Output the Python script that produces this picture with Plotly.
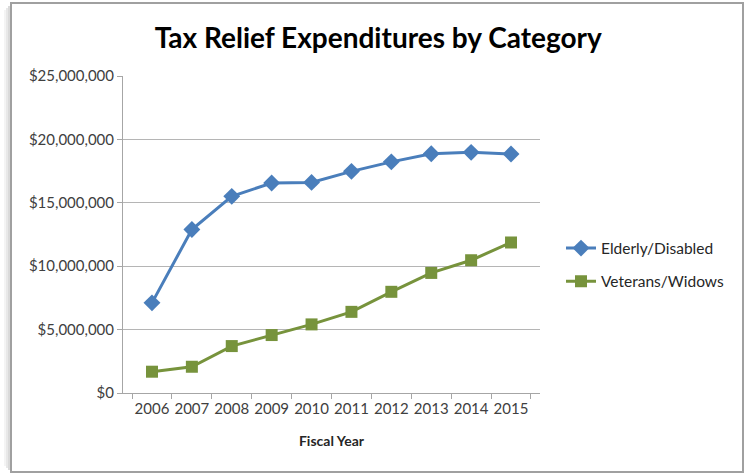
import plotly.graph_objects as go

years = ["2006", "2007", "2008", "2009", "2010", "2011", "2012", "2013", "2014", "2015"]
elderly_disabled = [7110000, 12890000, 15510000, 16560000, 16610000, 17480000, 18230000, 18870000, 18980000, 18850000]
veterans_widows = [1680000, 2070000, 3700000, 4570000, 5410000, 6400000, 7980000, 9470000, 10470000, 11870000]
y_ticks = [0, 5000000, 10000000, 15000000, 20000000, 25000000]

W, H = 746, 474
L, R, T, B = 123, 206, 76, 81
pw, ph = W - L - R, H - T - B

def px(x):
    return (x - L) / pw

def py(y):
    return (H - B - y) / ph

fig = go.Figure()
fig.add_trace(go.Scatter(
    x=years, y=elderly_disabled, name="Elderly/Disabled", mode="lines+markers",
    legendgroup="a",
    line=dict(color="#4A7EBB", width=3),
    marker=dict(symbol="diamond", size=13, color="#4A7EBB"),
))
fig.add_trace(go.Scatter(
    x=years, y=veterans_widows, name="Veterans/Widows", mode="lines+markers",
    legendgroup="b",
    line=dict(color="#77933C", width=3),
    marker=dict(symbol="square", size=12, color="#77933C"),
))

shapes = []
# soft shadow on the left
for off, col in [(6, "#f4f4f4"), (4, "#e8e8e8"), (2, "#dadada")]:
    shapes.append(dict(type="line", xref="paper", yref="paper",
                       x0=px(11 - off), x1=px(11 - off), y0=py(4 + off), y1=py(472 - off),
                       line=dict(color=col, width=2), layer="below"))
shapes.append(dict(type="rect", xref="paper", yref="paper",
                   x0=px(11), x1=px(743), y0=py(472), y1=py(3),
                   line=dict(color="#A0A0A0", width=2), layer="below"))

fig.update_layout(
    width=W, height=H,
    margin=dict(l=L, r=R, t=T, b=B, autoexpand=False),
    paper_bgcolor="white", plot_bgcolor="white",
    title=dict(text="<b>Tax Relief Expenditures by Category</b>", x=0.507, xanchor="center",
               y=1 - 38 / H, yanchor="middle", yref="container",
               font=dict(family="Lato", size=28, color="#000000")),
    font=dict(family="Lato", size=15, color="#404040"),
    xaxis=dict(type="category", tickson="boundaries", ticks="outside", ticklen=5,
               tickangle=0, automargin=False, ticklabelstandoff=2,
               tickcolor="#A6A6A6", showline=True, linecolor="#A6A6A6", linewidth=1,
               showgrid=False, tickfont=dict(size=15, color="#404040"),
               title=dict(text="<b>Fiscal Year</b>", font=dict(size=14, color="#262626"), standoff=20)),
    yaxis=dict(range=[0, 25000000], tickvals=y_ticks, tickformat="$,.0f", ticks="outside",
               automargin=False,
               ticklen=5, tickcolor="#A6A6A6", showline=True, linecolor="#A6A6A6", linewidth=1,
               showgrid=True, gridcolor="#B5B5B5", gridwidth=1, zeroline=False,
               tickfont=dict(size=15, color="#404040")),
    legend=dict(x=px(561), xanchor="left", y=py(265), yanchor="middle", itemwidth=30,
                traceorder="grouped", tracegroupgap=10,
                font=dict(size=15.5, color="#262626"), bgcolor="rgba(0,0,0,0)"),
    shapes=shapes,
    hovermode=False,
)

fig.write_html("out.html", config={"displayModeBar": False},
               post_script="document.body.style.margin='0';document.body.style.overflow='hidden';")
